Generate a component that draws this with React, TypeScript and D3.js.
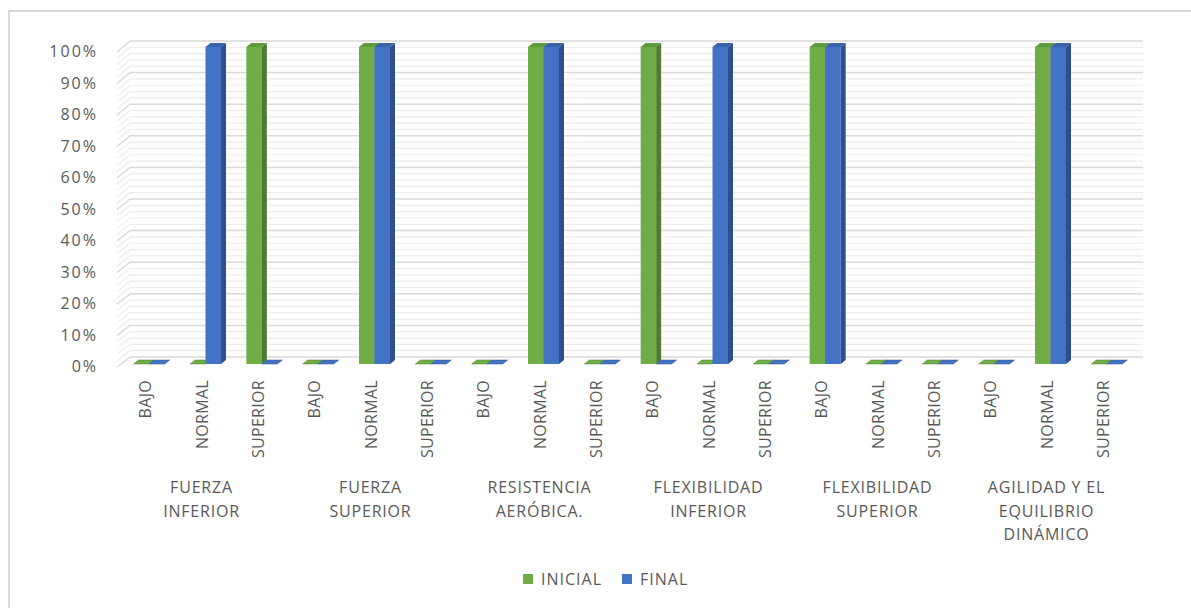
import React from "react";
import * as d3 from "d3";

const groups = [
  ["FUERZA", "INFERIOR"],
  ["FUERZA", "SUPERIOR"],
  ["RESISTENCIA", "AERÓBICA."],
  ["FLEXIBILIDAD", "INFERIOR"],
  ["FLEXIBILIDAD", "SUPERIOR"],
  ["AGILIDAD Y EL", "EQUILIBRIO", "DINÁMICO"],
];
const levels = ["BAJO", "NORMAL", "SUPERIOR"];
const series = ["INICIAL", "FINAL"];
// values per slot (group x level), fraction
const inicial = [0, 0, 1, 0, 1, 0, 0, 1, 0, 1, 0, 0, 1, 0, 0, 0, 1, 0];
const final = [0, 1, 0, 0, 1, 0, 0, 1, 0, 0, 1, 0, 1, 0, 0, 0, 1, 0];
const yTicks = [0, 0.1, 0.2, 0.3, 0.4, 0.5, 0.6, 0.7, 0.8, 0.9, 1];

const COLORS = {
  INICIAL: { front: "#70ad47", side: "#4e7a31", top: "#5f9a3b" },
  FINAL: { front: "#4472c4", side: "#2e4f8c", top: "#3a62ab" },
};
const TXT = "#595959";
const FONT = "'Open Sans', sans-serif";

export default function App() {
  const slots = d3.range(groups.length * levels.length).map(String);
  const x = d3.scaleBand<string>().domain(slots).range([117, 1131]).padding(0);
  const sub = d3.scaleBand<string>().domain(series).range([0, 31]).padding(0);
  const yBar = d3.scaleLinear().domain([0, 1]).range([364, 47]);
  const yBack = d3.scaleLinear().domain([0, 1]).range([357, 41]);
  const yFront = d3.scaleLinear().domain([0, 1]).range([367, 52]);
  const backX0 = 130, backX1 = 1143, frontX0 = 117;
  const dx = 5, dy = 4;
  const bw = sub.bandwidth();

  const minor = d3.range(0, 51).map((i) => i / 50);

  const bars: any[] = [];
  slots.forEach((s, i) => {
    const cx = (x(s) as number) + x.bandwidth() / 2;
    const vals = [inicial[i], final[i]];
    series.forEach((ser, j) => {
      const v = vals[j];
      const x0 = cx - 15.5 + 4 + (sub(ser) as number);
      const yt = yBar(v);
      const yb = yBar(0);
      const c = (COLORS as any)[ser];
      bars.push(
        <g key={`${i}-${j}`}>
          {v > 0 && <rect x={x0} y={yt} width={bw} height={yb - yt} fill={c.front} />}
          {v > 0 && (
            <polygon
              points={`${x0 + bw},${yt} ${x0 + bw + dx},${yt - dy} ${x0 + bw + dx},${yb - dy} ${x0 + bw},${yb}`}
              fill={c.side}
            />
          )}
          <polygon
            points={`${x0},${yt} ${x0 + dx},${yt - dy} ${x0 + bw + dx},${yt - dy} ${x0 + bw},${yt}`}
            fill={v > 0 ? c.top : c.front}
            stroke={v > 0 ? "none" : c.side}
            strokeWidth={0.5}
          />
        </g>
      );
    });
  });

  return (
    <svg
      width={1191}
      height={608}
      style={{ position: "absolute", left: 0, top: 0, background: "#fff" }}
      fontFamily={FONT}
    >
      <rect x={9} y={11} width={1300} height={700} fill="#fff" stroke="#d9d9d9" strokeWidth={2} />
      {/* gridlines */}
      {minor.map((v, i) => {
        const major = i % 5 === 0;
        const col = major ? "#d9d9d9" : "#ededed";
        return (
          <g key={i}>
            <line x1={backX0} x2={backX1} y1={yBack(v)} y2={yBack(v)} stroke={col} strokeWidth={major ? 1.5 : 1.2} />
            <line x1={frontX0} x2={backX0} y1={yFront(v)} y2={yBack(v)} stroke={col} strokeWidth={major ? 1.5 : 1.2} />
          </g>
        );
      })}
      {bars}
      {/* y axis labels */}
      {yTicks.map((t) => (
        <text
          key={t}
          x={98}
          y={yFront(t) - 1}
          textAnchor="end"
          dominantBaseline="central"
          fontSize={16}
          letterSpacing={2}
          fill={TXT}
        >
          {d3.format(".0%")(t)}
        </text>
      ))}
      {/* level labels */}
      {slots.map((s, i) => {
        const cx = (x(s) as number) + x.bandwidth() / 2;
        return (
          <text
            key={s}
            transform={`translate(${cx},380) rotate(-90)`}
            textAnchor="end"
            dominantBaseline="central"
            fontSize={16}
            letterSpacing={0.3}
            fill={TXT}
          >
            {levels[i % 3]}
          </text>
        );
      })}
      {/* group labels */}
      {groups.map((g, gi) => {
        const cx = (x(String(gi * 3 + 1)) as number) + x.bandwidth() / 2;
        return (
          <text key={gi} textAnchor="middle" fontSize={16} fill={TXT} letterSpacing={0.8}>
            {g.map((line, li) => (
              <tspan key={li} x={cx} y={493 + li * 23.5}>
                {line}
              </tspan>
            ))}
          </text>
        );
      })}
      {/* legend */}
      <rect x={523} y={574} width={10} height={10} fill={COLORS.INICIAL.front} />
      <text x={541} y={579} dominantBaseline="central" fontSize={16} fill={TXT} letterSpacing={1}>
        INICIAL
      </text>
      <rect x={622} y={574} width={10} height={10} fill={COLORS.FINAL.front} />
      <text x={640} y={579} dominantBaseline="central" fontSize={16} fill={TXT} letterSpacing={1}>
        FINAL
      </text>
    </svg>
  );
}
